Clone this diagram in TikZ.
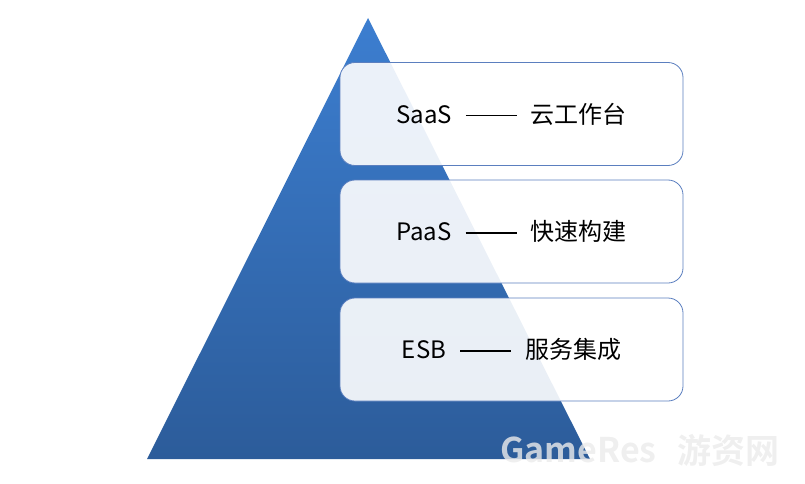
\documentclass[tikz,border=0pt]{standalone}
\usepackage{fontspec}
\setmainfont{Noto Sans CJK SC}
\newfontfamily\wmfont{Noto Sans CJK SC Bold}
\definecolor{triTop}{HTML}{3C7ED0}
\definecolor{triBot}{HTML}{2C5C9A}
\definecolor{boxLine}{HTML}{5B7FBF}
\newcommand{\longdash}{\hspace{14pt}\rule[7pt]{51pt}{1.4pt}\hspace{14pt}}
\tikzset{
  layer/.style={draw=boxLine, line width=0.8pt, fill=white, fill opacity=0.9, text opacity=1,
    rounded corners=15pt, minimum width=343pt, minimum height=103pt, inner sep=0pt,
    font=\fontsize{24}{27}\selectfont, text=black},
  wmark/.style={font=\wmfont\fontsize{34}{34}\selectfont, text=white!84!gray, text opacity=0.8, inner sep=0pt},
}
\begin{document}
\begin{tikzpicture}[x=1pt,y=1pt]
\useasboundingbox (0,0) rectangle (805,483);
\coordinate (apex) at (368,465);
\coordinate (bl) at (147,24);
\coordinate (br) at (590,24);
\shade[top color=triTop, bottom color=triBot] (apex) -- (br) -- (bl) -- cycle;
\node[layer] (saas) at (511.5,369) {SaaS\longdash 云工作台};
\node[layer] (paas) at (511.5,251.5) {PaaS\longdash 快速构建};
\node[layer] (esb) at (511.5,133.5) {ESB\longdash 服务集成};
\node[wmark, anchor=west] (wm1) at (500,33) {GameRes};
\node[wmark, anchor=west] (wm2) at (677,33) {游资网};
\end{tikzpicture}
\end{document}
